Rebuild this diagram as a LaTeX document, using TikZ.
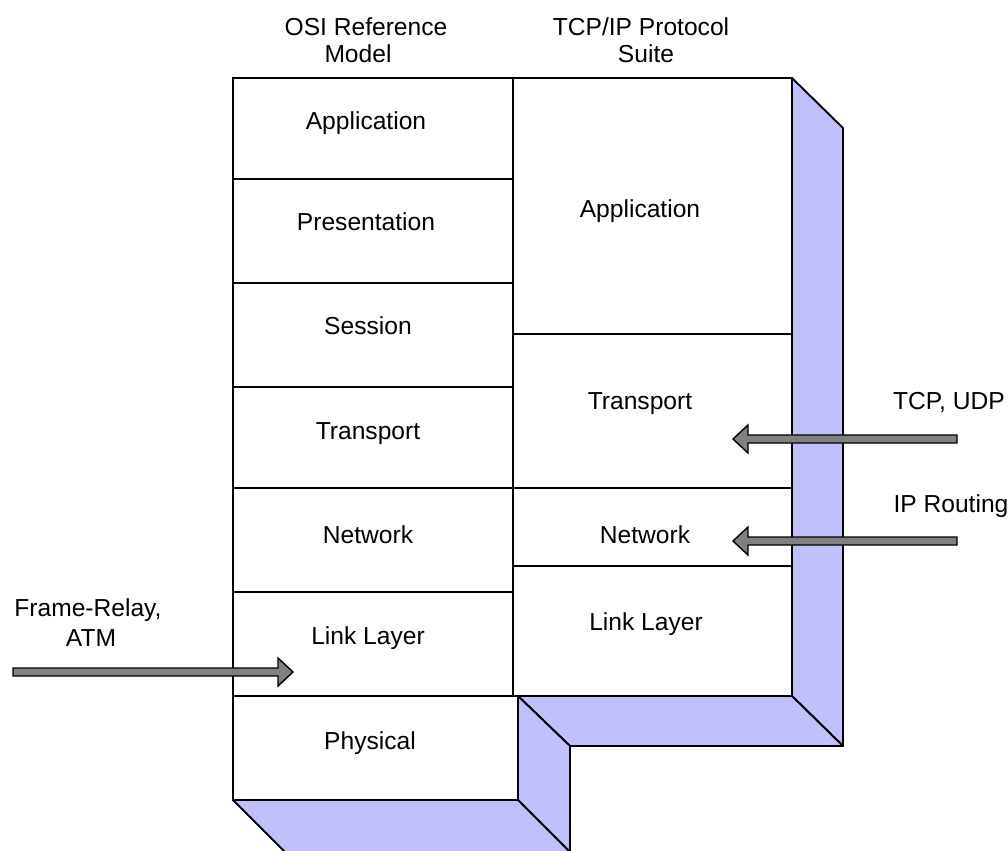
\documentclass[tikz,border=0pt]{standalone}
\usepackage{fontspec}
\setmainfont{Liberation Sans}
\usepackage{xcolor}
\usetikzlibrary{calc}
\definecolor{slab}{RGB}{192,192,255}
\definecolor{arrowgray}{RGB}{128,128,128}
% fat horizontal arrow: tail, tip, direction (1 = right, -1 = left)
\newcommand{\fatarrow}[3]{%
  \draw[fat]($(#1)+(0,-4)$)--($(#2)+({-15*(#3)},-4)$)--($(#2)+({-15*(#3)},-14)$)--(#2)
    --($(#2)+({-15*(#3)},14)$)--($(#2)+({-15*(#3)},4)$)--($(#1)+(0,4)$)--cycle;}

\begin{document}
\begin{tikzpicture}[x=0.02cm,y=-0.02cm,line width=1.1pt,
  lbl/.style={font=\fontsize{14}{16}\selectfont,inner sep=0pt,text height=10pt,text depth=0pt},
  face/.style={fill=slab,draw=black,line join=round},
  fat/.style={fill=arrowgray,draw=black,line width=0.8pt,line join=miter}]
\useasboundingbox(0,0)rectangle(1008,850);
% shaded sides
\draw[face](792,78)--(843,128)--(843,746)--(792,696)--cycle;
\draw[face](518,696)--(792,696)--(843,746)--(570,746)--cycle;
\draw[face](518,696)--(570,746)--(570,852)--(518,800)--cycle;
\draw[face](233,800)--(518,800)--(570,852)--(285,852)--cycle;
% OSI column
\draw(233,78)rectangle(513,696);
\foreach \y in {179,283,387,488,592}
  \draw(233,\y)--(513,\y);
\draw(233,696)rectangle(518,800);
% TCP/IP column
\draw(513,78)rectangle(792,696);
\foreach \y in {334,488,566}
  \draw(513,\y)--(792,\y);
% headings
\node[lbl](osihead) at (366,27){OSI Reference};
\node[lbl](osiheadb) at (358,54){Model};
\node[lbl](tcphead) at (641,27){TCP/IP Protocol};
\node[lbl](tcpheadb) at (646,54){Suite};
% OSI layers
\node[lbl](osiapp) at (366,121){Application};
\node[lbl](osipres) at (366,222){Presentation};
\node[lbl](osisess) at (368,326){Session};
\node[lbl](ositrans) at (368,431){Transport};
\node[lbl](osinet) at (368,535){Network};
\node[lbl](osilink) at (368,636){Link Layer};
\node[lbl](osiphys) at (370,741){Physical};
% TCP/IP layers
\node[lbl](tcpapp) at (640,209){Application};
\node[lbl](tcptrans) at (640,401){Transport};
\node[lbl](tcpnet) at (645,535){Network};
\node[lbl](tcplink) at (646,622){Link Layer};
% side labels
\node[lbl](tcpudp) at (949,401){TCP, UDP};
\node[lbl](iprout) at (951,504){IP Routing};
\node[lbl](frame) at (88,608){Frame-Relay,};
\node[lbl](atm) at (91,638){ATM};
% arrows
\coordinate(frtail) at (13,672);
\coordinate(frtip) at (293,672);
\coordinate(tcptail) at (957,439);
\coordinate(tcptip) at (733,439);
\coordinate(iptail) at (957,541);
\coordinate(iptip) at (733,541);
\fatarrow{frtail}{frtip}{1}
\fatarrow{tcptail}{tcptip}{-1}
\fatarrow{iptail}{iptip}{-1}
\end{tikzpicture}
\end{document}
